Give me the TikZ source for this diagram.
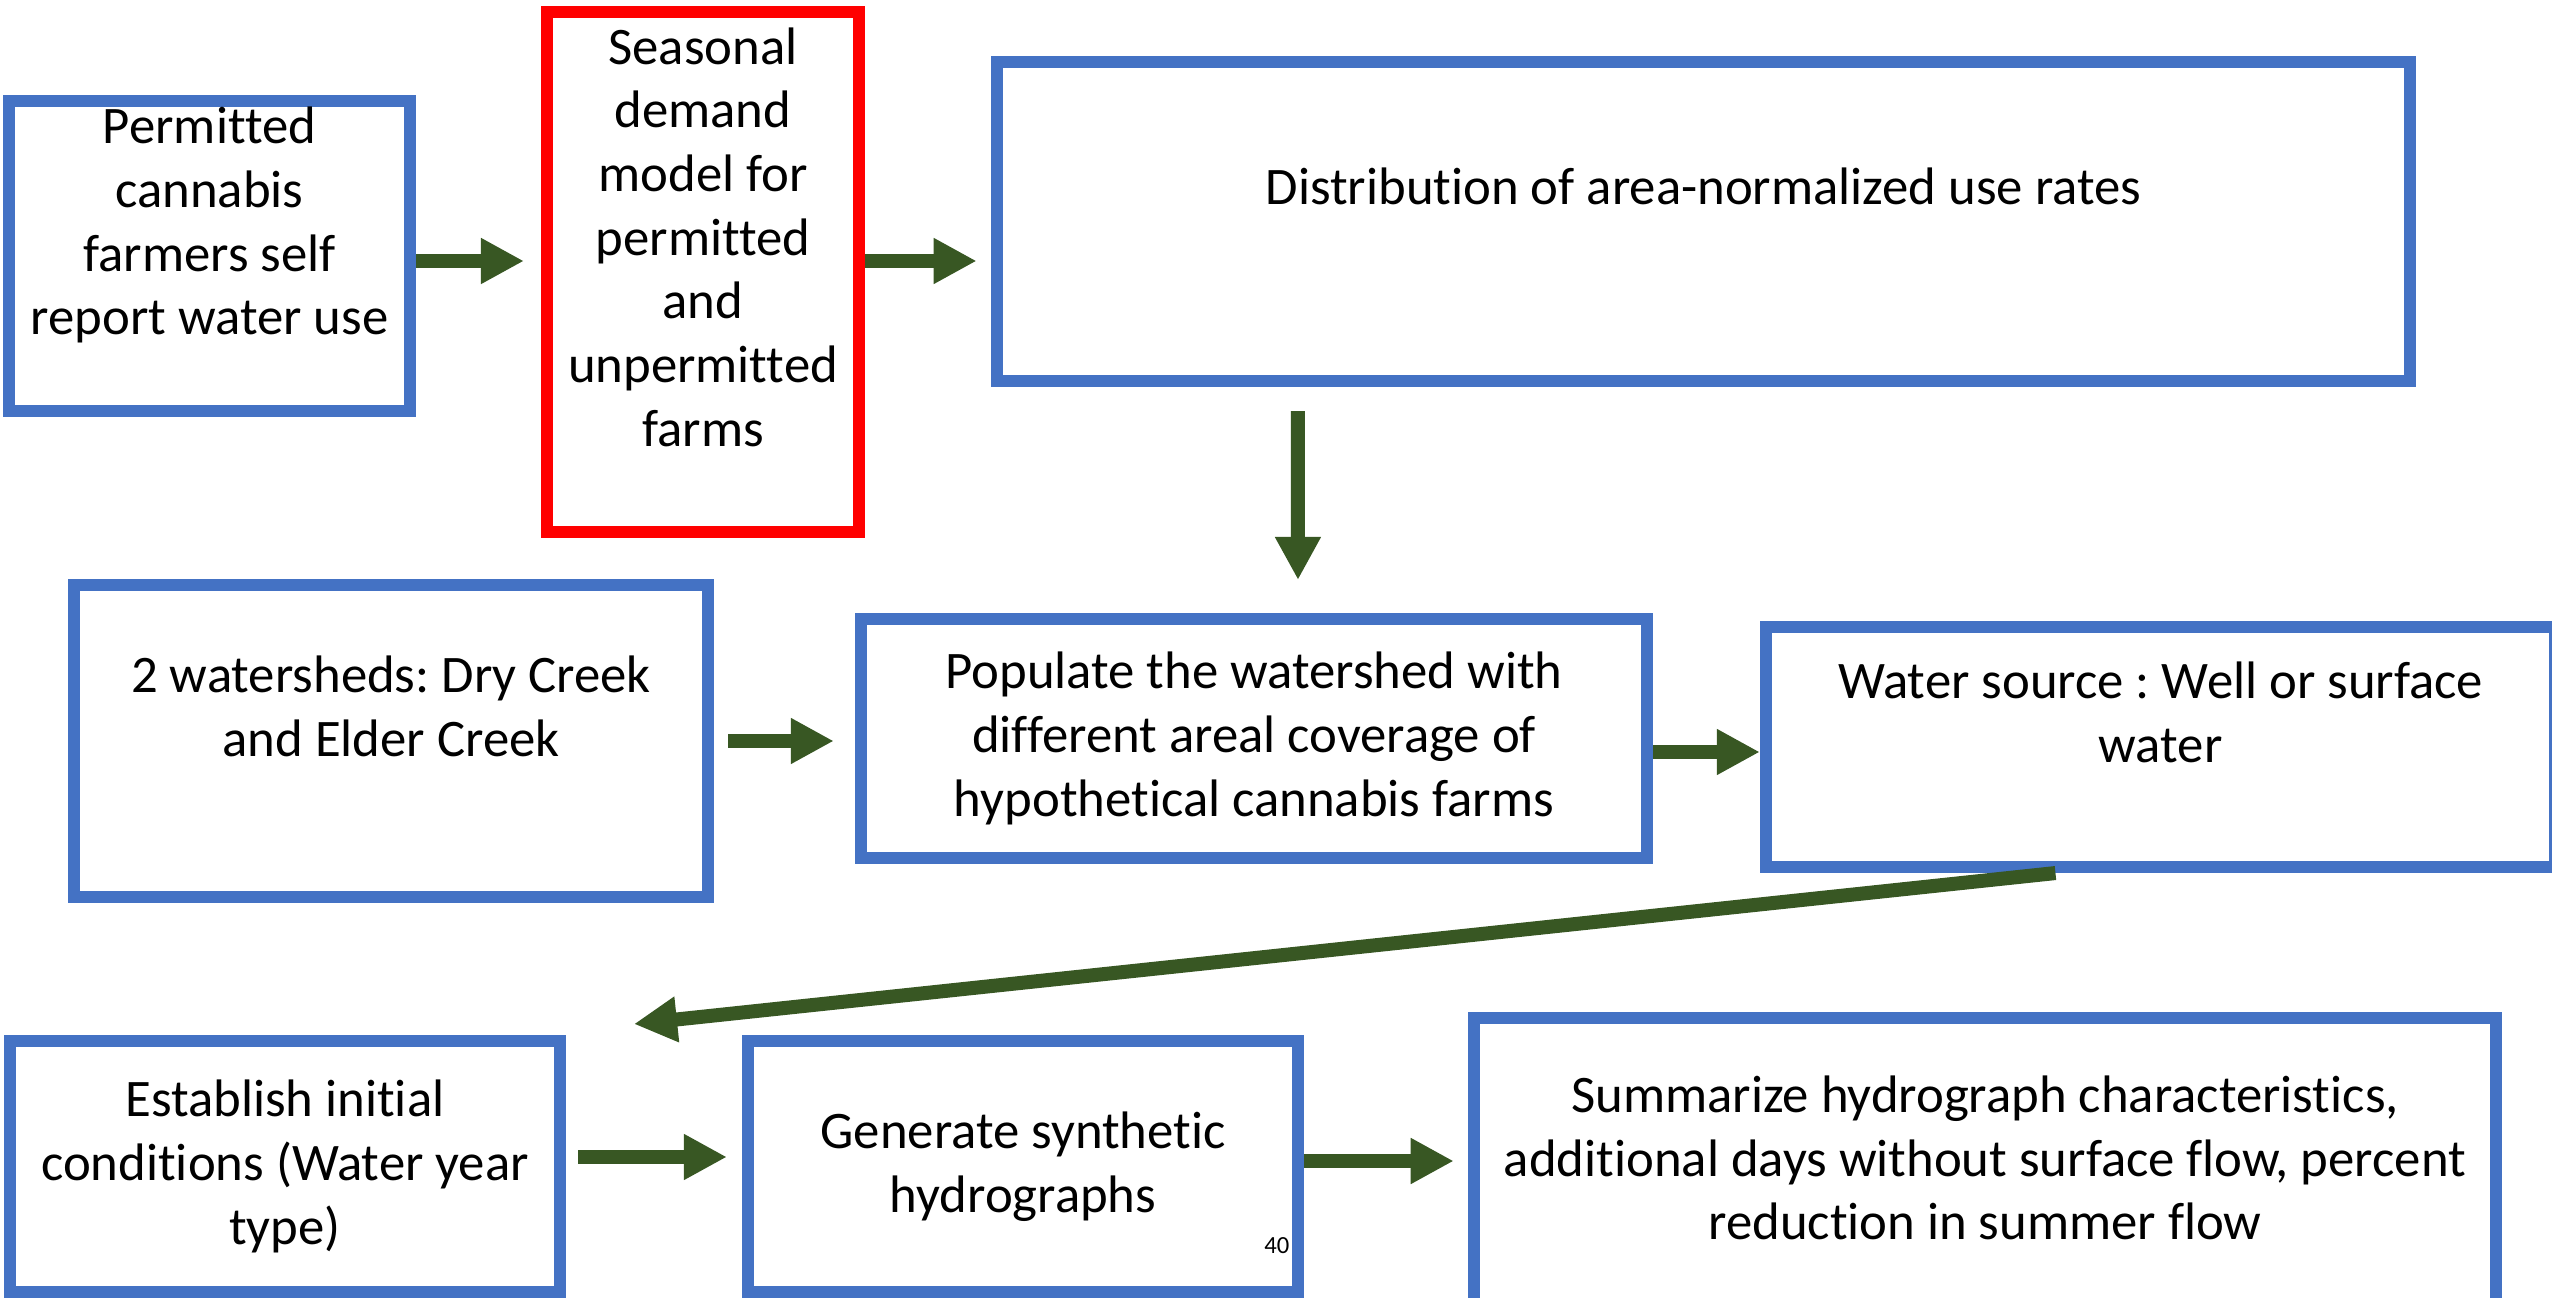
\documentclass[tikz,border=0pt]{standalone}
\usepackage{fontspec}
\setmainfont{Carlito}[Ligatures=NoCommon]
\frenchspacing
\usepackage{tikz}
\usetikzlibrary{arrows.meta}
\definecolor{boxblue}{HTML}{4472C4}
\definecolor{boxred}{HTML}{FF0000}
\definecolor{flowgreen}{HTML}{385723}
\newcommand{\defaultborder}{3.4pt}
\newcommand{\bordersize}{\defaultborder}
\newcommand{\nodestrut}{\rule[-0.1\baselineskip]{0pt}{1.2\baselineskip}}
\tikzstyle{box}=[draw, line width=\bordersize, inner sep=0, align=center, fill=white,
                 % Keep the first and last line at full height.
                 execute at begin node=\nodestrut, execute at end node=\nodestrut]
\tikzstyle{bbox}=[box, draw=boxblue]
\tikzstyle{rbox}=[box, draw=boxred]
\tikzstyle{flow}=[draw=flowgreen, line width=0.14cm, -{Triangle[length=0.43cm, width=0.43cm]}]
\tikzstyle{flowchart}=[x=0.01cm, y=-0.01cm,
                       % Slide text size.
                       every node/.style={font=\fontsize{15pt}{18.1pt}\selectfont}]

\begin{document}
\begin{tikzpicture}[flowchart]
    \useasboundingbox (0, 0) rectangle (2552, 1298);
    \clip (0, 0) rectangle (2552, 1298);
    \node[bbox, minimum width=4.01cm, minimum height=3.10cm] (report) at (209.5, 256) {Permitted\\cannabis\\farmers self\\report water use\\};
    \node[rbox, minimum width=3.12cm, minimum height=5.20cm] (demand) at (703, 272) {Seasonal\\demand\\model for\\permitted\\and\\unpermitted\\farms\\};
    \node[bbox, minimum width=14.13cm, minimum height=3.19cm] (rates) at (1703.5, 221.5) {Distribution of area-normalized use rates\\};
    \node[bbox, minimum width=6.34cm, minimum height=3.12cm] (sheds) at (391, 741) {2 watersheds: Dry Creek\\and Elder Creek\\};
    \node[bbox, minimum width=7.86cm, minimum height=2.39cm] (populate) at (1254, 738.5) {Populate the watershed with\\different areal coverage of\\hypothetical cannabis farms};
    \node[bbox, minimum width=7.89cm, minimum height=2.40cm] (source) at (2160.5, 747) {Water source : Well or surface\\water\\};
    \node[bbox, minimum width=5.50cm, minimum height=2.51cm] (initial) at (285, 1166.5) {Establish initial\\conditions (Water year\\type)};
    \node[bbox, minimum width=5.50cm, minimum height=2.51cm] (synth) at (1023, 1166.5) {Generate synthetic\\hydrographs};
    \node[bbox, minimum width=10.22cm, minimum height=2.86cm] (summary) at (1985, 1161) {Summarize hydrograph characteristics,\\additional days without surface flow, percent\\reduction in summer flow};
    \node[anchor=base east, inner sep=0, font=\fontsize{7pt}{8pt}\selectfont] (page) at (1290, 1253) {40};
    \coordinate (back) at (634, 1024);
    \draw[flow, shorten >=0.17cm] ([yshift=-0.05cm]report.east) -- ([yshift=-0.05cm]report.east -| demand.west);
    \draw[flow, shorten >=0.14cm] ([yshift=0.11cm]demand.east) -- ([yshift=0.11cm]demand.east -| rates.west);
    \draw[flow, shorten <=0.24cm, shorten >=0.33cm] ([xshift=-4.055cm]rates.south) -- ([xshift=0.44cm]populate.north);
    \draw[flow, shorten <=0.14cm, shorten >=0.21cm] (sheds.east) -- (sheds.east -| populate.west);
    \draw[flow] ([yshift=-0.05cm]source.west -| populate.east) -- ([yshift=-0.05cm]source.west);
    \draw[flow] ([xshift=-1.05cm]source.south) -- (back);
    \draw[flow, shorten <=0.12cm, shorten >=0.15cm] ([yshift=0.095cm]initial.east) -- ([yshift=0.095cm]synth.west);
    \draw[flow, shorten >=0.14cm] (summary.west -| synth.east) -- (summary.west);
\end{tikzpicture}
\end{document}
